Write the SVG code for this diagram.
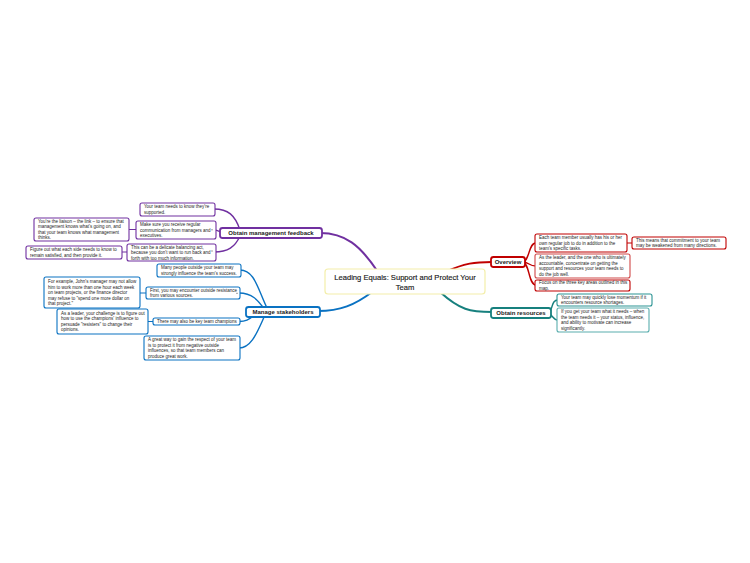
<svg xmlns="http://www.w3.org/2000/svg" width="750" height="563" viewBox="0 0 750 563">
<style>
text{font-family:"Liberation Sans",Arial,sans-serif;fill:#222}
.t{font-size:4.5px}
.m{font-size:6px;font-weight:bold}
.c{font-size:7.6px;fill:#1a1a1a;stroke:#1a1a1a;stroke-width:0.15}
.box{fill:#fff}
.conn path{fill:none;stroke-linecap:round}
.red{stroke:#c00000}
.teal{stroke:#17807e}
.pur{stroke:#7030a0}
.blu{stroke:#0a72c2}
.mb{stroke-width:1.8}
.cb{stroke-width:1.1}
.dash{stroke:#444;stroke-width:0.5}
</style>
<rect width="750" height="563" fill="#fff"/>
<g id="connectors" class="conn">
<path class="pur" stroke-width="2" d="M378 272 C360 245 345 233 320 233"/>
<path class="blu" stroke-width="2" d="M372 292 C355 305 340 311 318 311"/>
<path class="red" stroke-width="2" d="M445 272 C465 263 475 262 492 262"/>
<path class="teal" stroke-width="2" d="M440 292 C460 310 470 312 492 312"/>
<path class="red" stroke-width="1.4" d="M522 262 C530 262 528 243 536 243"/>
<path class="red" stroke-width="1.4" d="M522 262 C530 262 528 266 536 266"/>
<path class="red" stroke-width="1.4" d="M522 262 C530 262 528 285 536 285"/>
<path class="red" stroke-width="1" d="M627 243 L632 243"/>
<path class="teal" stroke-width="1.4" d="M546 313 C554 313 550 300 558 300"/>
<path class="teal" stroke-width="1.4" d="M546 313 C553 313 552 320 558 320"/>
<path class="pur" stroke-width="1.4" d="M214 209 C228 209 235 215 240 230"/>
<path class="pur" stroke-width="1.4" d="M214 230 C218 230 220 232 224 233"/>
<path class="pur" stroke-width="1.4" d="M214 252 C228 252 235 247 240 236"/>
<path class="pur" stroke-width="1" d="M129 229.5 L136 229.5"/>
<path class="pur" stroke-width="1" d="M121 252 L127 252"/>
<path class="blu" stroke-width="1.4" d="M240 270 C255 270 258 290 268 310"/>
<path class="blu" stroke-width="1.4" d="M239 293 C252 293 258 300 265 310"/>
<path class="blu" stroke-width="1.4" d="M239 321.5 C248 321.5 250 318 256 314"/>
<path class="blu" stroke-width="1.4" d="M239 348 C252 348 258 330 265 315"/>
<path class="blu" stroke-width="1" d="M140 293 L146 293"/>
<path class="blu" stroke-width="1" d="M147 321.5 L153 321.5"/>
</g>
<g id="central">
<rect class="box" x="325" y="269" width="160" height="25" rx="3" stroke="#f3eeaa" stroke-width="1.2"/>
<text class="c" x="405" y="279.5" text-anchor="middle">Leading Equals: Support and Protect Your</text>
<text class="c" x="405" y="289.5" text-anchor="middle">Team</text>
</g>
<g id="overview">
<rect class="box red mb" x="491" y="257" width="34" height="10" rx="2.5"/>
<text class="m" x="508" y="264.2" text-anchor="middle">Overview</text>
</g>
<g id="ov1">
<rect class="box red cb" x="535" y="234" width="92" height="18" rx="2"/>
<text class="t" x="539" y="239">Each team member usually has his or her</text>
<text class="t" x="539" y="244.5">own regular job to do in addition to the</text>
<text class="t" x="539" y="250">team's specific tasks.</text>
</g>
<g id="ov1a">
<rect class="box red cb" x="632" y="237" width="94" height="12" rx="2"/>
<text class="t" x="636" y="241.7">This means that commitment to your team</text>
<text class="t" x="636" y="247.2">may be weakened from many directions.</text>
</g>
<g id="ov2">
<rect class="box cb" x="535" y="254" width="95" height="24" rx="2" stroke="#d04848"/>
<text class="t" x="539" y="259.2">As the leader, and the one who is ultimately</text>
<text class="t" x="539" y="264.7">accountable, concentrate on getting the</text>
<text class="t" x="539" y="270.2">support and resources your team needs to</text>
<text class="t" x="539" y="275.7">do the job well.</text>
</g>
<g id="ov3">
<rect class="box red cb" x="535" y="280" width="95" height="11" rx="2"/>
<text class="t" x="539" y="284.2">Focus on the three key areas outlined in this</text>
<text class="t" x="539" y="289.7">map.</text>
</g>
<g id="resources">
<rect class="box teal mb" x="491" y="308" width="60" height="10" rx="2.5"/>
<text class="m" x="521" y="315.2" text-anchor="middle">Obtain resources</text>
</g>
<g id="res1">
<rect class="box cb" x="557" y="294" width="95" height="12" rx="2" stroke="#2a9393"/>
<text class="t" x="561" y="298.7">Your team may quickly lose momentum if it</text>
<text class="t" x="561" y="304.2">encounters resource shortages.</text>
</g>
<g id="res2">
<rect class="box cb" x="557" y="308" width="92" height="24" rx="2" stroke="#5aaeae"/>
<text class="t" x="561" y="313.2">If you get your team what it needs – when</text>
<text class="t" x="561" y="318.7">the team needs it – your status, influence,</text>
<text class="t" x="561" y="324.2">and ability to motivate can increase</text>
<text class="t" x="561" y="329.7">significantly.</text>
</g>
<g id="feedback">
<rect class="box pur mb" x="220" y="228" width="102" height="10" rx="2.5"/>
<text class="m" x="271" y="235.2" text-anchor="middle">Obtain management feedback</text>
</g>
<g id="fb1">
<rect class="box pur cb" x="140" y="203" width="75" height="13" rx="2"/>
<text class="t" x="144" y="208.2">Your team needs to know they're</text>
<text class="t" x="144" y="213.7">supported.</text>
</g>
<g id="fb2">
<rect class="box pur cb" x="136" y="221" width="80" height="18" rx="2"/>
<text class="t" x="140" y="226">Make sure you receive regular</text>
<text class="t" x="140" y="231.5">communication from managers and</text>
<text class="t" x="140" y="237">executives.</text>
<path class="dash" d="M211 229.8 H213"/>
</g>
<g id="fb2a">
<rect class="box pur cb" x="34" y="218" width="95" height="23" rx="2"/>
<text class="t" x="38" y="222.7">You're the liaison – the link – to ensure that</text>
<text class="t" x="38" y="228.2">management knows what's going on, and</text>
<text class="t" x="38" y="233.7">that your team knows what management</text>
<text class="t" x="38" y="239.2">thinks.</text>
</g>
<g id="fb3">
<rect class="box pur cb" x="127" y="244" width="89" height="17" rx="2"/>
<text class="t" x="131" y="248.5">This can be a delicate balancing act,</text>
<text class="t" x="131" y="254">because you don't want to run back and</text>
<text class="t" x="131" y="259.5">forth with too much information.</text>
<path class="dash" d="M211 251 H213"/>
</g>
<g id="fb3a">
<rect class="box pur cb" x="26" y="246" width="96" height="13" rx="2"/>
<text class="t" x="30" y="251.2">Figure out what each side needs to know to</text>
<text class="t" x="30" y="256.7">remain satisfied, and then provide it.</text>
</g>
<g id="stakeholders">
<rect class="box blu mb" x="246" y="307" width="74" height="10" rx="2.5"/>
<text class="m" x="283" y="314.2" text-anchor="middle">Manage stakeholders</text>
</g>
<g id="sh1">
<rect class="box blu cb" x="157" y="264" width="84" height="13" rx="2"/>
<text class="t" x="161" y="269.2">Many people outside your team may</text>
<text class="t" x="161" y="274.7">strongly influence the team's success.</text>
</g>
<g id="sh2">
<rect class="box blu cb" x="146" y="287" width="94" height="12" rx="2"/>
<text class="t" x="150" y="291.7">First, you may encounter outside resistance</text>
<text class="t" x="150" y="297.2">from various sources.</text>
<path class="dash" d="M236 293.3 H238"/>
</g>
<g id="sh2a">
<rect class="box blu cb" x="44" y="277" width="96" height="31" rx="2"/>
<text class="t" x="48" y="283">For example, John's manager may not allow</text>
<text class="t" x="48" y="288.5">him to work more than one hour each week</text>
<text class="t" x="48" y="294">on team projects, or the finance director</text>
<text class="t" x="48" y="299.5">may refuse to "spend one more dollar on</text>
<text class="t" x="48" y="305">that project."</text>
</g>
<g id="sh3">
<rect class="box blu cb" x="153" y="318" width="87" height="7" rx="2"/>
<text class="t" x="157" y="323">There may also be key team champions</text>
</g>
<g id="sh3a">
<rect class="box blu cb" x="57" y="309" width="91" height="25" rx="2"/>
<text class="t" x="61" y="314.7">As a leader, your challenge is to figure out</text>
<text class="t" x="61" y="320.2">how to use the champions' influence to</text>
<text class="t" x="61" y="325.7">persuade "resisters" to change their</text>
<text class="t" x="61" y="331.2">opinions.</text>
</g>
<g id="sh4">
<rect class="box blu cb" x="144" y="336" width="96" height="24" rx="2"/>
<text class="t" x="148" y="341.2">A great way to gain the respect of your team</text>
<text class="t" x="148" y="346.7">is to protect it from negative outside</text>
<text class="t" x="148" y="352.2">influences, so that team members can</text>
<text class="t" x="148" y="357.7">produce great work.</text>
</g>
</svg>
